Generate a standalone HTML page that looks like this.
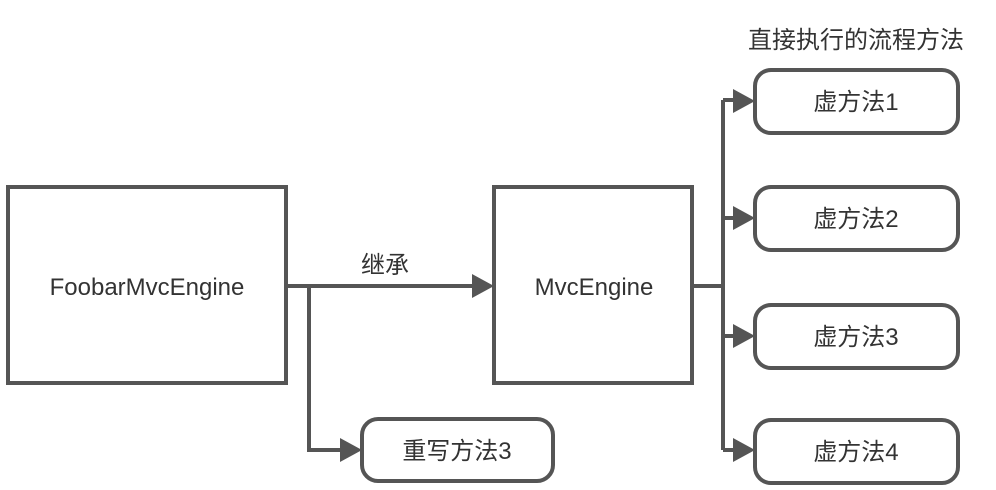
<!DOCTYPE html>
<html><head><meta charset="utf-8"><style>
body{margin:0;background:#fff}
svg text{font-family:"Liberation Sans","Noto Sans CJK SC",sans-serif;fill:#333;font-size:24px}
</style></head><body>
<svg width="996" height="485" viewBox="0 0 996 485">
<defs><marker id="a" markerWidth="8" markerHeight="8" refX="7" refY="4" orient="auto" markerUnits="userSpaceOnUse"><path d="M0,0 L0,0 L0,0" /></marker></defs>
<g fill="none" stroke="#555" stroke-width="4">
<rect x="8" y="187" width="278" height="196"/>
<rect x="494" y="187" width="198" height="196"/>
<rect x="362" y="419" width="191" height="62" rx="16"/>
<rect x="755" y="70" width="203" height="63" rx="16"/>
<rect x="755" y="187" width="203" height="63" rx="16"/>
<rect x="755" y="305" width="203" height="63" rx="16"/>
<rect x="755" y="420" width="203" height="63" rx="16"/>
<path d="M286,286 H474 M309,286 V450 H342 M692,286 H723 M723,100 V450 M723,100 H735 M723,218 H735 M723,336 H735 M723,450 H735"/>
</g>
<g fill="#555">
<path d="M472,274 L494,286 L472,298Z"/>
<path d="M340,438 L362,450 L340,462Z"/>
<path d="M733,89 L755,101 L733,113Z"/>
<path d="M733,206 L755,218 L733,230Z"/>
<path d="M733,324 L755,336 L733,348Z"/>
<path d="M733,438 L755,450 L733,462Z"/>
</g>
<g text-anchor="middle">
<text x="147" y="295">FoobarMvcEngine</text>
<text x="594" y="295">MvcEngine</text>
<text x="385" y="273">继承</text>
<text x="457" y="459">重写方法3</text>
<text x="856" y="110">虚方法1</text>
<text x="856" y="227">虚方法2</text>
<text x="856" y="345">虚方法3</text>
<text x="856" y="460">虚方法4</text>
<text x="856" y="48">直接执行的流程方法</text>
</g>
</svg>
</body></html>
